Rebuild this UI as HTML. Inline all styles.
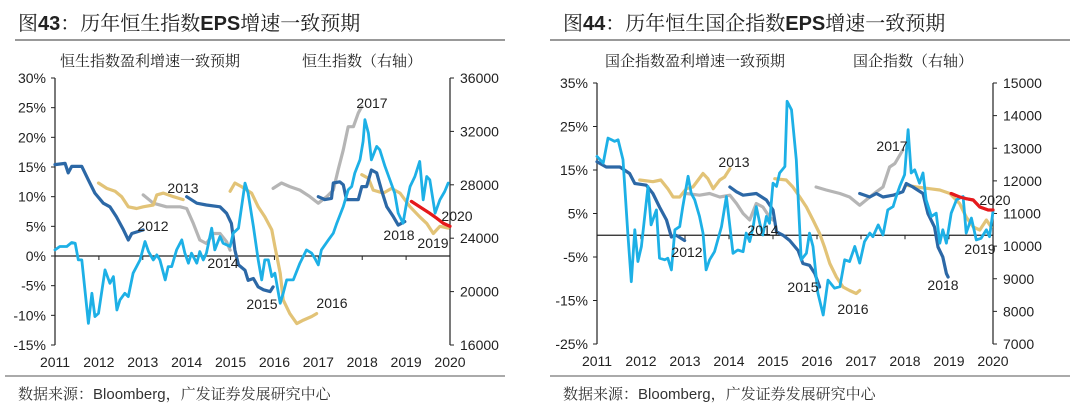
<!DOCTYPE html>
<html><head><meta charset="utf-8">
<style>
body{margin:0;width:1080px;height:418px;background:#fff;overflow:hidden;font-family:"Liberation Sans","Noto Sans CJK SC",sans-serif;}
svg{position:absolute;left:0;top:0}
.ser{font-family:"Liberation Serif","Noto Serif CJK SC",serif;}
.bsn{font-family:"Liberation Sans",sans-serif;font-weight:bold;}
</style></head>
<body>
<svg id="chart" width="1080" height="418" viewBox="0 0 1080 418">
<g>
<text x="18" y="30" font-size="20" fill="#222" class="ser">图<tspan class="bsn">43</tspan>：历年恒生指数<tspan class="bsn">EPS</tspan>增速一致预期</text>
<line x1="15" y1="40" x2="505" y2="40" stroke="#333" stroke-width="1"/>
<text x="60" y="66" font-size="15" fill="#222" class="ser">恒生指数盈利增速一致预期</text>
<text x="302" y="66" font-size="15" fill="#222" class="ser">恒生指数（右轴）</text>
<line x1="5" y1="376" x2="505" y2="376" stroke="#555" stroke-width="1"/>
<text x="18" y="399" font-size="15" fill="#333" class="ser">数据来源：<tspan font-family="Liberation Sans,sans-serif">Bloomberg</tspan>，广发证券发展研究中心</text>
</g>
<g>
<text x="563" y="30" font-size="20" fill="#222" class="ser">图<tspan class="bsn">44</tspan>：历年恒生国企指数<tspan class="bsn">EPS</tspan>增速一致预期</text>
<line x1="550" y1="40" x2="1070" y2="40" stroke="#333" stroke-width="1"/>
<text x="605" y="66" font-size="15" fill="#222" class="ser">国企指数盈利增速一致预期</text>
<text x="853" y="66" font-size="15" fill="#222" class="ser">国企指数（右轴）</text>
<line x1="550" y1="376" x2="1070" y2="376" stroke="#555" stroke-width="1"/>
<text x="563" y="399" font-size="15" fill="#333" class="ser">数据来源：<tspan font-family="Liberation Sans,sans-serif">Bloomberg</tspan>，广发证券发展研究中心</text>
</g>
</svg>
<script>
// ---------- Left chart (HSI) data ----------
const yearTicks = [2011,2012,2013,2014,2015,2016,2017,2018,2019,2020];
const hsiPctTicks = [30,25,20,15,10,5,0,-5,-10,-15];
const hsiIdxTicks = [36000,32000,28000,24000,20000,16000];
const hsiYears = [2011.00,2011.11,2011.27,2011.38,2011.46,2011.53,2011.61,2011.76,2011.84,2011.91,2011.99,2012.14,2012.25,2012.33,2012.41,2012.48,2012.59,2012.67,2012.78,2012.94,2013.05,2013.13,2013.24,2013.32,2013.39,2013.51,2013.58,2013.66,2013.77,2013.89,2013.96,2014.04,2014.11,2014.23,2014.30,2014.38,2014.45,2014.57,2014.64,2014.76,2014.83,2014.99,2015.06,2015.18,2015.33,2015.40,2015.52,2015.63,2015.71,2015.78,2015.86,2015.94,2016.01,2016.13,2016.20,2016.28,2016.43,2016.58,2016.73,2016.85,2016.92,2017.00,2017.07,2017.23,2017.34,2017.42,2017.57,2017.68,2017.76,2017.83,2017.95,2018.02,2018.06,2018.14,2018.21,2018.33,2018.40,2018.52,2018.63,2018.74,2018.82,2018.93,2019.01,2019.09,2019.20,2019.31,2019.39,2019.47,2019.54,2019.66,2019.77,2019.88,2019.96];
const hsiValues = [23125,23375,23375,23675,23625,22375,22375,17625,19875,18125,18375,21625,20625,21125,18625,19375,19875,19625,21375,22375,23750,23000,22375,22750,22375,20875,21875,21875,23125,23875,22875,22125,22875,22125,23000,22375,22875,24750,23125,24125,23625,23375,24375,24750,28125,27375,24875,22375,20875,22375,22375,21125,21375,19125,19875,20875,20875,22125,23125,22875,22500,22000,23125,23875,24375,25125,26375,27625,27875,28875,29875,31250,32875,31875,29875,30875,30625,29375,28375,27375,25875,25125,26625,27875,28625,29750,26875,28625,28375,25875,26875,27500,28125];
const hsiE1Years = [2011.0,2011.23,2011.30,2011.38,2011.61,2011.76,2011.91,2012.10,2012.25,2012.40,2012.56,2012.67,2012.75,2013.01];
const hsiE1Values = [15.4,15.6,14,15.1,15.1,12.8,10.6,8.9,8.3,6.6,4.4,2.7,3.8,4.4];
const hsiE2Years = [2011.99,2012.18,2012.37,2012.52,2012.67,2012.86,2013.01,2013.24,2013.32,2013.47,2013.70,2013.92];
const hsiE2Values = [12.3,11.4,10.9,10,8.3,8,8.3,8.6,10.3,10.6,10,9.5];
const hsiE3Years = [2013.01,2013.24,2013.54,2013.85,2014.0,2014.15,2014.30,2014.45,2014.61,2014.76,2014.91,2014.99];
const hsiE3Values = [10.3,8.9,8.3,8.3,8,5.5,2.7,2.1,3.8,3.8,2.4,1];
const hsiE4Years = [2014.0,2014.23,2014.45,2014.76,2014.91,2015.02,2015.10,2015.18,2015.33,2015.40,2015.52,2015.63,2015.75,2015.90,2015.97];
const hsiE4Values = [10,8.9,8.6,8.3,7.2,5.5,1,-1.5,-2.4,-4.1,-3.8,-5.2,-5.7,-6,-5.2];
const hsiE5Years = [2014.99,2015.10,2015.25,2015.48,2015.63,2015.78,2015.94,2016.01,2016.13,2016.20,2016.35,2016.51,2016.66,2016.85,2016.96];
const hsiE5Values = [10.9,12.3,11.7,10.6,8.3,6.6,4.4,1.6,-2.9,-7.4,-9.7,-11.4,-10.8,-10.2,-9.7];
const hsiE6Years = [2015.97,2016.16,2016.35,2016.58,2016.81,2017.0,2017.19,2017.34,2017.45,2017.57,2017.68,2017.80,2017.91,2017.99];
const hsiE6Values = [11.4,12.3,11.7,11.1,10,8.9,10,11.1,14.5,17.9,21.8,21.8,24.1,25.2];
const hsiE7Years = [2017.0,2017.15,2017.30,2017.34,2017.49,2017.57,2017.64,2017.91,2017.99,2018.10,2018.21,2018.33,2018.44,2018.56,2018.71,2018.82,2018.97];
const hsiE7Values = [10,9.5,9.7,12.3,12.5,12,9.5,9.5,11.7,11.7,14.5,14,11.1,8.3,6.6,5.2,5.8];
const hsiE8Years = [2017.99,2018.14,2018.25,2018.48,2018.67,2018.86,2019.09,2019.31,2019.47,2019.62,2019.77,2019.96];
const hsiE8Values = [13.7,13.1,11.1,10.6,11.4,10.6,8.3,6.6,5.5,3.8,5,4.7];
const hsiE9Years = [2019.12,2019.31,2019.54,2019.69,2019.85,2020.0];
const hsiE9Values = [9.2,8.3,7.2,6.4,5.5,5];
const hsiLabels = ["2017","2013","2012","2014","2015","2016","2018","2019","2020"];

// ---------- Right chart (HSCEI) data ----------
const hscPctTicks = [35,25,15,5,-5,-15,-25];
const hscIdxTicks = [15000,14000,13000,12000,11000,10000,9000,8000,7000];
const hscYears = [2011.00,2011.14,2011.25,2011.33,2011.40,2011.48,2011.59,2011.70,2011.78,2011.86,2011.93,2012.01,2012.16,2012.23,2012.35,2012.42,2012.54,2012.61,2012.69,2012.77,2012.88,2012.95,2013.07,2013.14,2013.22,2013.33,2013.41,2013.48,2013.56,2013.67,2013.83,2013.94,2014.09,2014.20,2014.32,2014.39,2014.47,2014.55,2014.62,2014.70,2014.77,2014.85,2014.92,2015.00,2015.08,2015.15,2015.27,2015.32,2015.42,2015.53,2015.64,2015.76,2015.83,2015.91,2016.02,2016.14,2016.25,2016.40,2016.52,2016.63,2016.74,2016.86,2016.97,2017.08,2017.20,2017.27,2017.39,2017.50,2017.61,2017.73,2017.80,2017.88,2017.99,2018.07,2018.14,2018.22,2018.33,2018.41,2018.48,2018.60,2018.71,2018.79,2018.86,2018.94,2019.05,2019.17,2019.32,2019.39,2019.51,2019.62,2019.73,2019.85,2019.92,2020.00];
const hscValues = [12750,12545,13310,13260,13210,13260,12650,10400,8910,10500,9530,9990,11830,10650,11110,9630,9580,9630,9270,10500,10600,11210,12140,11620,11420,10910,10400,9270,9580,9830,10600,11520,9780,9880,9830,10400,10140,10600,11210,10700,10340,10910,10700,11930,11830,12240,12440,14440,14180,12650,9580,9780,10400,9990,8560,7890,8960,8710,8760,9580,9530,9990,9480,10140,10400,10290,10650,10340,11110,11210,11520,11830,12190,13570,12240,12340,11930,12240,11420,10910,11010,10090,10500,10090,11010,11420,11520,10400,10860,10190,10240,10500,10290,11060];
const hscE1Years = [2011.0,2011.21,2011.52,2011.74,2011.86,2012.12,2012.27,2012.42,2012.58,2012.69,2012.80,2012.99];
const hscE1Values = [16.9,15.7,15.7,14.2,11.9,11.5,9.6,6.5,3.5,-0.4,0,-1.2];
const hscE2Years = [2011.97,2012.27,2012.45,2012.61,2012.73,2012.88,2013.03,2013.18,2013.41,2013.52,2013.64,2013.79,2013.90,2014.02];
const hscE2Values = [12.7,12.3,12.7,10.7,8.8,8.8,10.7,11.1,14.2,13,10.7,12.7,13.4,15.3];
const hscE3Years = [2013.03,2013.33,2013.56,2013.79,2014.02,2014.17,2014.32,2014.47,2014.62,2014.77,2014.92,2015.0];
const hscE3Values = [9.6,9.2,9.6,8.8,9.2,7.3,5,3.5,7.3,6.5,4.2,3.5];
const hscE4Years = [2014.02,2014.17,2014.32,2014.62,2014.85,2015.0,2015.08,2015.23,2015.38,2015.57,2015.68,2015.83,2015.95,2016.06];
const hscE4Values = [11.1,10,9.2,9.6,8.1,5.8,0.8,0,-1.2,-3.5,-6.5,-6.9,-8.8,-11.9];
const hscE5Years = [2015.04,2015.30,2015.45,2015.61,2015.76,2015.91,2016.06,2016.17,2016.29,2016.44,2016.59,2016.74,2016.89,2016.97];
const hscE5Values = [13,12.7,11.1,8.8,6.5,3.5,0.4,-2.7,-6.5,-9.6,-11.9,-12.7,-13.4,-12.7];
const hscE6Years = [2015.98,2016.21,2016.52,2016.74,2016.97,2017.20,2017.35,2017.50,2017.65,2017.77,2017.95];
const hscE6Values = [11.1,10.4,9.6,8.8,6.9,8.8,10,11.1,15.7,16.5,19.6];
const hscE7Years = [2016.97,2017.20,2017.35,2017.50,2017.73,2017.95,2018.03,2018.18,2018.41,2018.52,2018.67,2018.75,2018.86,2018.94,2018.98];
const hscE7Values = [9.6,8.8,9.6,8.8,9.2,10,11.9,11.1,9.6,5,1.9,-2.7,-5,-8.8,-9.6];
const hscE8Years = [2018.03,2018.26,2018.56,2018.79,2019.02,2019.24,2019.39,2019.55,2019.70,2019.85,2019.96];
const hscE8Values = [11.5,11.1,10.7,10.4,9.6,7.3,4.2,1.9,1.2,3.5,1.9];
const hscE9Years = [2019.05,2019.24,2019.39,2019.55,2019.70,2019.89,2020.0];
const hscE9Values = [9.6,8.8,8.4,8.1,6.5,5.8,5.8];
const hscLabels = ["2017","2013","2012","2014","2015","2016","2018","2019","2020"];

const NS = "http://www.w3.org/2000/svg";
const svg = document.getElementById('chart');
const C_DARK = "#2c68a6", C_GOLD = "#e2c377", C_GRAY = "#b5b5b5", C_LIGHT = "#1db0e6", C_RED = "#e5191c";

function mk(tag, attrs, parent){
  const e = document.createElementNS(NS, tag);
  for (const k in attrs) e.setAttribute(k, attrs[k]);
  (parent||svg).appendChild(e);
  return e;
}

function drawChart(cfg){
  const g = mk('g', {});
  
  
  const xS = y => cfg.x0 + (y - 2011) / 9 * (cfg.x1 - cfg.x0);
  const yL = v => cfg.yTop + (cfg.pMax - v) / (cfg.pMax - cfg.pMin) * (cfg.yBot - cfg.yTop);
  const yR = v => cfg.yTop + (cfg.iMax - v) / (cfg.iMax - cfg.iMin) * (cfg.yBot - cfg.yTop);
  const la = mk('line', {x1:cfg.x0, y1:cfg.yTop, x2:cfg.x0, y2:cfg.yBot, stroke:'#222','stroke-width':1.2}, g);
  
  
  cfg.pTicks.forEach(t => {
    const y = yL(t);
    mk('line', {x1:cfg.x0-4, y1:y, x2:cfg.x0, y2:y, stroke:'#222'}, g);
    const tx = mk('text', {x:cfg.x0-9, y:y+5, 'text-anchor':'end', 'font-size':14, fill:'#222'}, g);
    
    
    tx.textContent = t + '%';
  });
  const ra = mk('line', {x1:cfg.x1, y1:cfg.yTop, x2:cfg.x1, y2:cfg.yBot, stroke:'#222','stroke-width':1.2}, g);
  
  
  cfg.iTicks.forEach(t => {
    const y = yR(t);
    mk('line', {x1:cfg.x1, y1:y, x2:cfg.x1+4, y2:y, stroke:'#222'}, g);
    const tx = mk('text', {x:cfg.x1+10, y:y+5, 'font-size':14, fill:'#222'}, g);
    
    
    tx.textContent = t;
  });
  const z = yL(0);
  const zl = mk('line', {x1:cfg.x0, y1:z, x2:cfg.x1, y2:z, stroke:'#222','stroke-width':1.2}, g);
  
  
  yearTicks.forEach(yr => {
    const x = xS(yr);
    mk('line', {x1:x, y1:z, x2:x, y2:z+4, stroke:'#222'}, g);
    const tx = mk('text', {x:x, y:cfg.xLabelY, 'text-anchor':'middle', 'font-size':14, fill:'#222'}, g);
    
    
    tx.textContent = yr;
  });
  function line(xs, vs, scale, color, w, name){
    const d = xs.map((x,i) => (i?'L':'M') + xS(x).toFixed(1) + ',' + scale(vs[i]).toFixed(1)).join(' ');
    const p = mk('path', {d:d, fill:'none', stroke:color, 'stroke-width':w, 'stroke-linejoin':'round', 'stroke-linecap':'round'}, g);
    
    
  }
  cfg.eps.forEach(s => line(s[0], s[1], yL, s[2], 3.2, s[3]));
  line(cfg.idxX, cfg.idxV, yR, C_LIGHT, 2.8, 'index-line');
  cfg.eps.filter(s => s[2] === C_RED).forEach(s => line(s[0], s[1], yL, s[2], 3, s[3]));
  cfg.labels.forEach((l, i) => {
    const tx = mk('text', {x:cfg.labelPos[i][0], y:cfg.labelPos[i][1]+5, 'text-anchor':'middle', 'font-size':14, fill:'#222'}, g);
    
    
    tx.textContent = l;
  });
}

drawChart({
  name:'hsi-chart', x0:55, x1:450, yTop:78, yBot:345, pMax:30, pMin:-15, iMax:36000, iMin:16000,
  pTicks:hsiPctTicks, iTicks:hsiIdxTicks, xLabelY:367,
  idxX:hsiYears, idxV:hsiValues,
  eps:[[hsiE3Years,hsiE3Values,C_GRAY,'eps-2014'],[hsiE6Years,hsiE6Values,C_GRAY,'eps-2017'],
       [hsiE2Years,hsiE2Values,C_GOLD,'eps-2013'],[hsiE5Years,hsiE5Values,C_GOLD,'eps-2016'],[hsiE8Years,hsiE8Values,C_GOLD,'eps-2019'],
       [hsiE1Years,hsiE1Values,C_DARK,'eps-2012'],[hsiE4Years,hsiE4Values,C_DARK,'eps-2015'],[hsiE7Years,hsiE7Values,C_DARK,'eps-2018'],
       [hsiE9Years,hsiE9Values,C_RED,'eps-2020']],
  labels:hsiLabels,
  labelPos:[[372,103],[183,188],[153,226],[223,263],[262,304],[332,303],[399,235],[433,243],[457,216]]
});
drawChart({
  name:'hscei-chart', x0:597, x1:993, yTop:83, yBot:344, pMax:35, pMin:-25, iMax:15000, iMin:7000,
  pTicks:hscPctTicks, iTicks:hscIdxTicks, xLabelY:366,
  idxX:hscYears, idxV:hscValues,
  eps:[[hscE3Years,hscE3Values,C_GRAY,'eps-2014'],[hscE6Years,hscE6Values,C_GRAY,'eps-2017'],
       [hscE2Years,hscE2Values,C_GOLD,'eps-2013'],[hscE5Years,hscE5Values,C_GOLD,'eps-2016'],[hscE8Years,hscE8Values,C_GOLD,'eps-2019'],
       [hscE1Years,hscE1Values,C_DARK,'eps-2012'],[hscE4Years,hscE4Values,C_DARK,'eps-2015'],[hscE7Years,hscE7Values,C_DARK,'eps-2018'],
       [hscE9Years,hscE9Values,C_RED,'eps-2020']],
  labels:hscLabels,
  labelPos:[[892,146],[734,162],[687,252],[763,230],[803,287],[853,309],[943,285],[980,249],[995,200]]
});
</script>
</body></html>
